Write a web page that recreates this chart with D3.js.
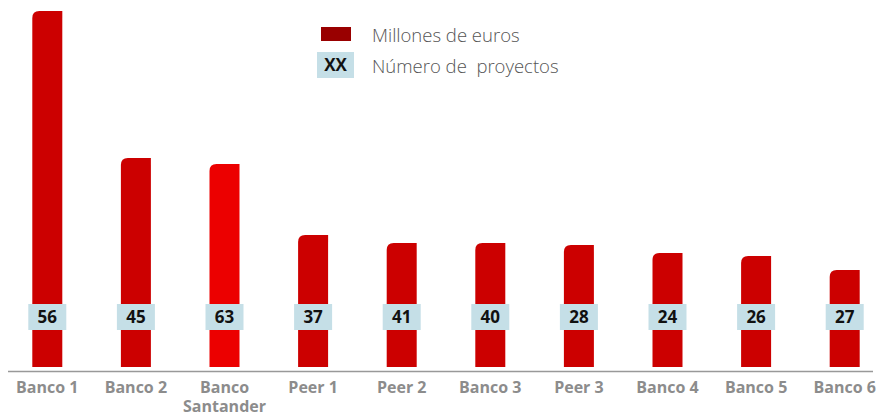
<!DOCTYPE html>
<html>
<head>
<meta charset="utf-8">
<script src="https://cdn.jsdelivr.net/npm/d3@7"></script>
<style>
  body { margin: 0; background: #fff; }
  svg { display: block; font-family: "Open Sans", "Noto Sans", sans-serif; }
</style>
</head>
<body>
<div id="chart"></div>
<script>
// data
const banks = ["Banco 1", "Banco 2", "Banco Santander", "Peer 1", "Peer 2", "Banco 3", "Peer 3", "Banco 4", "Banco 5", "Banco 6"];
const millones = [356, 209, 203, 132, 124, 124, 122, 114, 111, 97];
const proyectos = [56, 45, 63, 37, 41, 40, 28, 24, 26, 27];
const legendLabels = ["Millones de euros", "Número de  proyectos"];

const width = 881, height = 416;
const baseY = 367;
const barW = 30, r = 7;

const svg = d3.select('#chart').append('svg')
    .attr('width', width)
    .attr('height', height);

const x = d3.scalePoint()
    .domain(banks)
    .range([3, 889])
    .padding(0.5);

const y = d3.scaleLinear()
    .domain([0, d3.max(millones)])
    .range([baseY, 11]);

const data = banks.map((b, i) => ({ bank: b, value: millones[i], n: proyectos[i] }));

// bar with rounded top-left corner only
function barPath(d) {
    const x0 = x(d.bank) - barW / 2, x1 = x0 + barW;
    const top = y(d.value);
    return `M${x0},${baseY} L${x0},${top + r} Q${x0},${top} ${x0 + r},${top} L${x1},${top} L${x1},${baseY} Z`;
}

svg.selectAll('path.bar')
    .data(data)
    .join('path')
    .attr('class', 'bar')
    .attr('d', barPath)
    .attr('fill', d => d.bank === "Banco Santander" ? "#ec0000" : "#cc0000");

// axis line
svg.append('line')
    .attr('x1', 8).attr('x2', 873)
    .attr('y1', 371.5).attr('y2', 371.5)
    .attr('stroke', '#999')
    .attr('stroke-width', 1.5);

// project count boxes
const boxes = svg.selectAll('g.box')
    .data(data)
    .join('g')
    .attr('class', 'box')
    .attr('transform', d => `translate(${x(d.bank)},317)`);

boxes.append('rect')
    .attr('x', -19).attr('y', -13)
    .attr('width', 38).attr('height', 26)
    .attr('fill', '#c5dfe7');

boxes.append('text')
    .attr('text-anchor', 'middle')
    .attr('dy', '0.36em')
    .attr('font-size', 17)
    .attr('font-weight', 'bold')
    .attr('fill', '#111')
    .text(d => d.n);

// category labels
const labels = svg.selectAll('text.cat')
    .data(data)
    .join('text')
    .attr('class', 'cat')
    .attr('text-anchor', 'middle')
    .attr('font-size', 16)
    .attr('font-weight', 'bold')
    .attr('fill', '#8c8c8c');

labels.each(function (d) {
    const parts = d.bank === "Banco Santander" ? ["Banco", "Santander"] : [d.bank];
    d3.select(this).selectAll('tspan')
        .data(parts)
        .join('tspan')
        .attr('x', x(d.bank))
        .attr('y', (p, i) => 393 + i * 19)
        .text(p => p);
});

// legend
const legend = svg.append('g');
legend.append('rect')
    .attr('x', 321).attr('y', 27)
    .attr('width', 30).attr('height', 14)
    .attr('fill', '#990000');
legend.append('rect')
    .attr('x', 317).attr('y', 52)
    .attr('width', 37).attr('height', 26)
    .attr('fill', '#c5dfe7');
legend.append('text')
    .attr('x', 335.5).attr('y', 65)
    .attr('dy', '0.36em')
    .attr('text-anchor', 'middle')
    .attr('font-size', 17)
    .attr('font-weight', 'bold')
    .attr('fill', '#111')
    .text('XX');
legend.selectAll('text.lg')
    .data(legendLabels)
    .join('text')
    .attr('class', 'lg')
    .attr('x', 372)
    .attr('y', (d, i) => 35 + i * 31)
    .attr('dy', '0.36em')
    .attr('font-size', 18.5)
    .attr('font-weight', 300)
    .attr('fill', '#555')
    .attr('xml:space', 'preserve')
    .style('white-space', 'pre')
    .text(d => d);
</script>
</body>
</html>
